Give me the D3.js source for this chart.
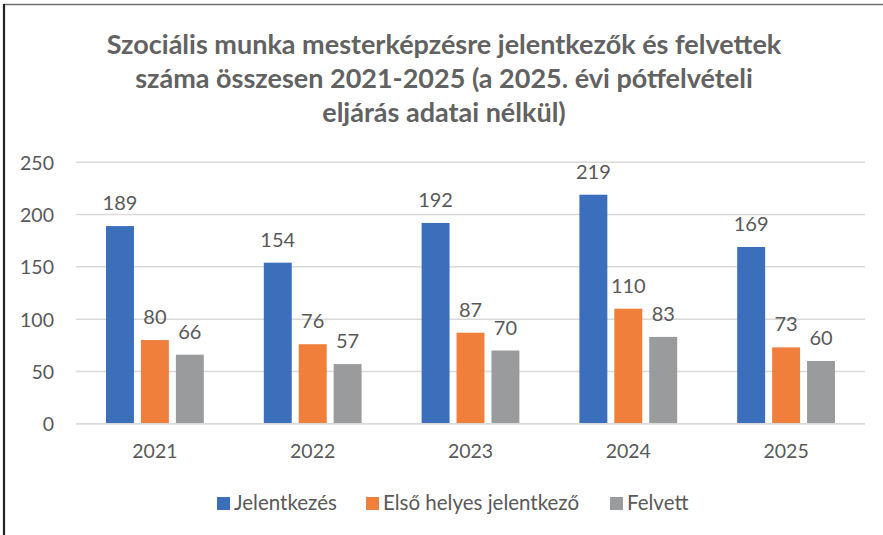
<!DOCTYPE html>
<html>
<head>
<meta charset="utf-8">
<script src="https://cdn.jsdelivr.net/npm/d3@7/dist/d3.min.js"></script>
<style>
  html, body { margin: 0; padding: 0; background: #fff; }
  svg { display: block; }
  text { font-family: Lato, "Open Sans", sans-serif; fill: #595959; }
</style>
</head>
<body>
<svg id="chart" width="883" height="535"></svg>
<script>
const titleLines = [
  "Szociális munka mesterképzésre jelentkezők és felvettek",
  "száma összesen 2021-2025 (a 2025. évi pótfelvételi",
  "eljárás adatai nélkül)"
];
const categories = ["2021", "2022", "2023", "2024", "2025"];
const seriesNames = ["Jelentkezés", "Első helyes jelentkező", "Felvett"];
const jelentkezes = [189, 154, 192, 219, 169];
const elsoHelyes = [80, 76, 87, 110, 73];
const felvett = [66, 57, 70, 83, 60];
const yTicks = [0, 50, 100, 150, 200, 250];
const colors = ["#3B6FBB", "#EF7F3A", "#9A9B9C"];

const seriesValues = [jelentkezes, elsoHelyes, felvett];

const svg = d3.select("#chart");
const W = 883, H = 535;

// frame
svg.append("line").attr("x1", 4).attr("x2", W).attr("y1", 4.5).attr("y2", 4.5)
  .attr("stroke", "#6f6f6f").attr("stroke-width", 1.5);
svg.append("line").attr("x1", 4).attr("x2", 4).attr("y1", 4).attr("y2", H)
  .attr("stroke", "#222").attr("stroke-width", 2.2);

// title
const title = svg.append("text")
  .attr("text-anchor", "middle")
  .style("font-weight", "bold")
  .style("font-size", "27px")
  .style("fill", "#626262");
titleLines.forEach((t, i) => {
  title.append("tspan").attr("x", 444).attr("y", 54 + i * 34).text(t);
});

const x0 = d3.scaleBand().domain(categories).range([76, 865]).paddingInner(0).paddingOuter(0);
const y = d3.scaleLinear().domain([0, 250]).range([423.7, 162.3]);

// gridlines
svg.append("g").selectAll("line").data(yTicks).join("line")
  .attr("x1", 76).attr("x2", 865)
  .attr("y1", d => y(d)).attr("y2", d => y(d))
  .attr("stroke", "#d9d9d9").attr("stroke-width", 1.5);

// y tick labels
svg.append("g").selectAll("text").data(yTicks).join("text")
  .attr("x", 54).attr("y", d => y(d))
  .attr("text-anchor", "end").attr("dominant-baseline", "central")
  .style("font-size", "19.5px")
  .text(d => d);

// inner band for series
const groupPad = 30;
const x1 = d3.scaleBand().domain(d3.range(3))
  .range([0, x0.bandwidth() - 2 * groupPad]).paddingInner(0.2).paddingOuter(0);

const data = [];
categories.forEach((c, i) => {
  seriesValues.forEach((vals, s) => data.push({ cat: c, s, v: vals[i] }));
});

svg.append("g").selectAll("rect").data(data).join("rect")
  .attr("x", d => x0(d.cat) + groupPad + x1(d.s))
  .attr("width", x1.bandwidth())
  .attr("y", d => y(d.v))
  .attr("height", d => y(0) - y(d.v))
  .attr("fill", d => colors[d.s]);

// redraw baseline on top
svg.append("line").attr("x1", 76).attr("x2", 865).attr("y1", y(0)).attr("y2", y(0))
  .attr("stroke", "#d9d9d9").attr("stroke-width", 1.5);

// data labels
svg.append("g").selectAll("text").data(data).join("text")
  .attr("x", d => x0(d.cat) + groupPad + x1(d.s) + x1.bandwidth() / 2)
  .attr("y", d => y(d.v) - 16)
  .attr("text-anchor", "middle")
  .style("font-size", "20px")
  .text(d => d.v);

// category labels
svg.append("g").selectAll("text").data(categories).join("text")
  .attr("x", d => x0(d) + x0.bandwidth() / 2)
  .attr("y", 458)
  .attr("text-anchor", "middle")
  .style("font-size", "19.5px")
  .text(d => d);

// legend
const legendX = [217, 366, 610];
const lg = svg.append("g");
seriesNames.forEach((n, i) => {
  lg.append("rect").attr("x", legendX[i]).attr("y", 497).attr("width", 13).attr("height", 13)
    .attr("fill", colors[i]);
  lg.append("text").attr("x", legendX[i] + 17).attr("y", 510)
    .style("font-size", "20.5px").text(n);
});
</script>
</body>
</html>
